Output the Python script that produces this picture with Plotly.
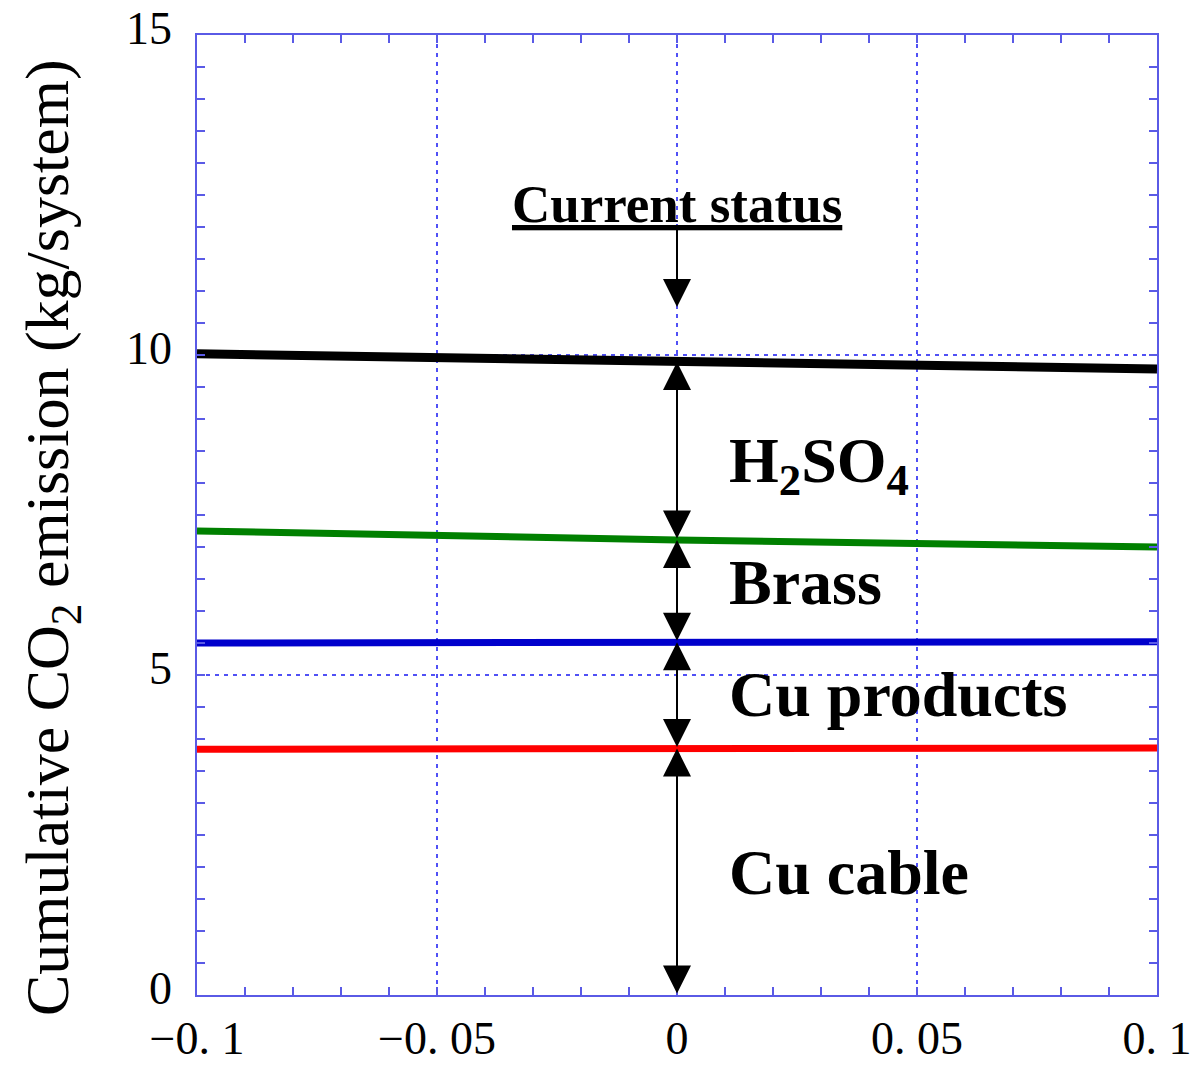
import plotly.graph_objects as go

# ---- data ----
x_vals = [-0.1, 0.0, 0.1]
h2so4_total = [10.02, 9.89, 9.78]   # black
brass_total = [7.25, 7.11, 7.00]    # green
cu_prod_total = [5.50, 5.51, 5.52]  # blue
cu_cable = [3.84, 3.85, 3.86]       # red

x_tickvals = [-0.1, -0.05, 0, 0.05, 0.1]
x_ticktext = ["−0. 1", "−0. 05", "0", "0. 05", "0. 1"]
y_tickvals = [0, 5, 10, 15]
y_ticktext = ["0", "5", "10", "15"]

segment_labels = ["H<sub>2</sub>SO<sub>4</sub>", "Brass", "Cu products", "Cu cable"]
segment_label_y = [8.28, 6.45, 4.69, 1.92]
label_x = 0.0105
status_text_y = 12.36
status_arrow_top = 12.0
status_arrow_tip = 10.75

SERIF = "Liberation Serif"
AXIS_BLUE = "#5a5ae6"
GRID_BLUE = "#5050f5"

fig = go.Figure()
series = [
    (cu_cable, "#ff0000", 7),
    (cu_prod_total, "#0000cc", 7),
    (brass_total, "#008000", 7),
    (h2so4_total, "#000000", 9),
]
for ys, col, w in series:
    fig.add_trace(go.Scatter(x=x_vals, y=ys, mode="lines",
                             line=dict(color=col, width=w), showlegend=False,
                             hoverinfo="skip"))

mid = x_vals.index(0.0)
levels = [0, cu_cable[mid], cu_prod_total[mid], brass_total[mid], h2so4_total[mid]]

annotations = []
for lo, hi in zip(levels[:-1], levels[1:]):
    annotations.append(dict(x=0, y=hi, ax=0, ay=lo, xref="x", yref="y",
                            axref="x", ayref="y", text="", showarrow=True,
                            arrowhead=2, startarrowhead=2, arrowside="end+start",
                            arrowsize=2.8, startarrowsize=2.8, arrowwidth=2,
                            arrowcolor="black", standoff=0, startstandoff=0))
# current status arrow
annotations.append(dict(x=0, y=status_arrow_tip, ax=0, ay=status_arrow_top,
                        xref="x", yref="y", axref="x", ayref="y", text="",
                        showarrow=True, arrowhead=2, arrowsize=2.8, arrowwidth=2,
                        arrowcolor="black", standoff=0))
annotations.append(dict(x=0, y=status_text_y, xref="x", yref="y",
                        text="<b><u>Current status</u></b>", showarrow=False,
                        font=dict(family=SERIF, size=53, color="black"),
                        xanchor="center", yanchor="middle"))
for txt, yy in zip(segment_labels, segment_label_y):
    annotations.append(dict(x=label_x, y=yy, xref="x", yref="y",
                            text="<b>" + txt + "</b>", showarrow=False,
                            font=dict(family=SERIF, size=64, color="black"),
                            xanchor="left", yanchor="middle"))
annotations.append(dict(x=-0.152, y=0.476, xref="paper", yref="paper",
                        text="Cumulative CO<sub>2</sub> emission (kg/system)",
                        textangle=-90, showarrow=False,
                        font=dict(family=SERIF, size=62, color="black"),
                        xanchor="center", yanchor="middle"))

fig.update_layout(
    width=1195, height=1065,
    margin=dict(l=197, r=38, t=35, b=70, autoexpand=False),
    paper_bgcolor="white", plot_bgcolor="white",
    annotations=annotations,
    showlegend=False,
)
common = dict(
    showgrid=True, gridcolor=GRID_BLUE, gridwidth=1.6, griddash="4px,5px",
    zeroline=False, showline=True, linecolor=AXIS_BLUE, linewidth=1.5,
    mirror="ticks", ticks="inside", ticklen=8, tickcolor=AXIS_BLUE, tickwidth=1.5,
    tickfont=dict(family=SERIF, size=46, color="black"),
    automargin=False,
)
fig.update_xaxes(range=[-0.1, 0.1], tickvals=x_tickvals, ticktext=x_ticktext,
                 ticklabelstandoff=2,
                 minor=dict(dtick=0.01, ticks="inside", ticklen=8, tickcolor=AXIS_BLUE,
                            tickwidth=1.5, showgrid=False), **common)
fig.update_yaxes(range=[0, 15], tickvals=y_tickvals, ticktext=y_ticktext,
                 ticklabelstandoff=14, ticklabelshift=-7,
                 minor=dict(dtick=0.5, ticks="inside", ticklen=8, tickcolor=AXIS_BLUE,
                            tickwidth=1.5, showgrid=False), **common)

fig.write_html("out.html")
